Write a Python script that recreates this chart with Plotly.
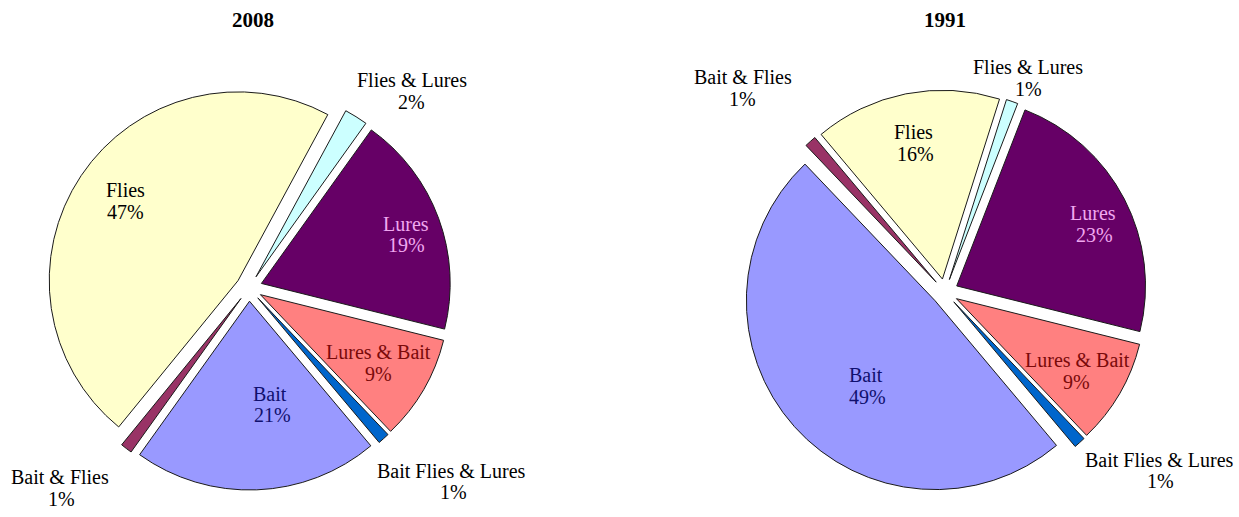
import plotly.graph_objects as go

# Fishing method shares (percent of anglers)
categories = ["Bait", "Bait & Flies", "Flies", "Flies & Lures", "Lures",
              "Lures & Bait", "Bait Flies & Lures"]
share_2008 = [21, 1, 47, 2, 19, 9, 1]
share_1991 = [49, 1, 16, 1, 23, 9, 1]
years = ["2008", "1991"]

# Styling
slice_colors = ["#9999FF", "#993366", "#FFFFCC", "#CCFFFF", "#660066",
                "#FF8080", "#0066CC"]
label_colors = ["#10106E", "#000000", "#000000", "#000000", "#F0A8F0",
                "#7A0A0A", "#000000"]
W, H = 1239, 517
FONT = "Liberation Serif, Times New Roman, serif"

# Pie placement in pixels: centre x, centre y, outer box half-size
pie_boxes = {
    "2008": (249, 288, 202),
    "1991": (945, 292, 202),
}
title_pos = {"2008": (253, 20), "1991": (945, 20)}

# Label anchor (pixel) for name line and percent line of each category
label_pos = {
    "2008": [((270, 394), (272, 415)),
             ((60, 477), (61, 499)),
             ((125, 190), (125, 212)),
             ((412, 80), (411, 102)),
             ((406, 224), (406, 245)),
             ((378, 352), (378, 374)),
             ((451, 471), (453, 492))],
    "1991": [((866, 375), (867, 397)),
             ((743, 77), (742, 99)),
             ((913, 132), (915, 154)),
             ((1028, 67), (1028, 89)),
             ((1093, 213), (1094, 235)),
             ((1077, 360), (1076, 382)),
             ((1159, 460), (1160, 481))],
}


def px_x(x):
    return x / W


def px_y(y):
    return 1 - y / H


fig = go.Figure()
annotations = []

for year, values in zip(years, [share_2008, share_1991]):
    cx, cy, half = pie_boxes[year]
    fig.add_trace(go.Pie(
        labels=categories,
        values=values,
        sort=False,
        direction="clockwise",
        rotation=140,
        pull=[0.07] * len(values),
        marker=dict(colors=slice_colors, line=dict(color="#1a1a1a", width=1)),
        textinfo="none",
        hoverinfo="label+percent",
        showlegend=False,
        domain=dict(x=[px_x(cx - half), px_x(cx + half)],
                    y=[px_y(cy + half), px_y(cy - half)]),
        name=year,
    ))

    tx, ty = title_pos[year]
    annotations.append(dict(
        x=px_x(tx), y=px_y(ty), xref="paper", yref="paper",
        text=f"<b>{year}</b>", showarrow=False,
        xanchor="center", yanchor="middle",
        font=dict(family=FONT, size=21, color="#000000"),
    ))

    for cat, val, col, (p_name, p_val) in zip(categories, values,
                                              label_colors, label_pos[year]):
        for (lx, ly), txt in ((p_name, cat), (p_val, f"{val}%")):
            annotations.append(dict(
                x=px_x(lx), y=px_y(ly), xref="paper", yref="paper",
                text=txt, showarrow=False,
                xanchor="center", yanchor="middle",
                font=dict(family=FONT, size=20, color=col),
            ))

fig.update_layout(
    width=W, height=H,
    margin=dict(l=0, r=0, t=0, b=0),
    paper_bgcolor="white",
    plot_bgcolor="white",
    annotations=annotations,
)

fig.write_html("out.html")
